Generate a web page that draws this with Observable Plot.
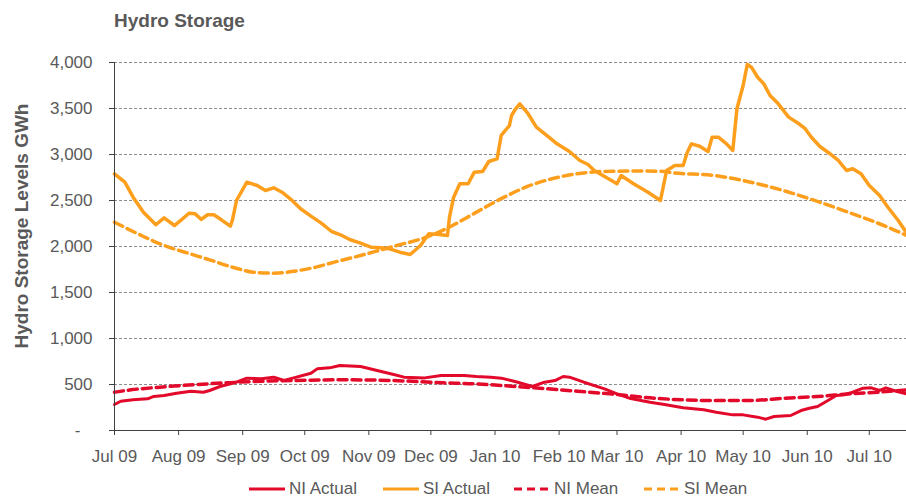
<!DOCTYPE html>
<html>
<head>
<meta charset="utf-8">
<script src="https://cdn.jsdelivr.net/npm/d3@7"></script>
<script src="https://cdn.jsdelivr.net/npm/@observablehq/plot@0.6"></script>
<style>
  body { margin: 0; background: #fff; font-family: "Liberation Sans", Arial, sans-serif; }
  #wrap { position: relative; width: 906px; height: 499px; overflow: hidden; background: #fff; }
  #title { position: absolute; left: 114px; top: 11px; font-size: 19px; line-height: 1; font-weight: bold; color: #595959; }
  #ylab { position: absolute; left: 21px; top: 226px; transform: translate(-50%, -50%) rotate(-90deg);
          white-space: nowrap; font-size: 19px; line-height: 1; font-weight: bold; color: #595959; }
  #chart { position: absolute; left: 0; top: 0; }
  .leg { position: absolute; top: 479px; height: 19px; display: flex; align-items: center; }
  .leg span { font-size: 17px; line-height: 19px; color: #595959; margin-left: 4px; white-space: nowrap; }
</style>
</head>
<body>
<div id="wrap">
  <div id="chart"></div>
  <div id="title">Hydro Storage</div>
  <div id="ylab">Hydro Storage Levels GWh</div>
  <div id="legend"></div>
</div>
<script>
// Days counted from 1 Jul 2009
const startDate = "2009-07-01";
const endDate = "2010-07-19";

const siActualDays = [0,5,9,14,20,24,29,32,36,39,42,45,48,51,56,57,59,64,69,73,77,81,85,90,95,100,105,109,114,119,124,129,133,138,143,148,152,157,161,162,164,167,171,174,178,181,185,187,191,192,194,196,200,204,209,214,220,225,229,232,237,243,245,251,258,264,267,271,275,277,279,283,287,289,292,296,299,301,304,306,308,311,314,317,321,326,331,334,337,341,346,350,354,357,361,365,370,374,379,383];
const siActualVals = [2790,2700,2536,2373,2236,2312,2228,2283,2362,2355,2294,2345,2345,2301,2221,2283,2500,2699,2663,2609,2638,2590,2519,2410,2330,2254,2163,2130,2073,2036,1993,1986,1975,1938,1913,2011,2138,2130,2120,2319,2536,2682,2682,2808,2815,2924,2953,3207,3315,3424,3497,3551,3443,3297,3207,3116,3033,2935,2891,2826,2761,2682,2772,2682,2590,2500,2826,2880,2880,3025,3116,3090,3033,3188,3188,3116,3044,3497,3750,3978,3949,3840,3768,3641,3551,3406,3334,3280,3188,3090,3008,2935,2826,2845,2790,2663,2555,2427,2283,2150];

const siMeanDays = [0,14,24,34,46,58,67,77,87,96,108,119,129,138,148,161,174,187,200,216,229,241,253,264,270,290,306,325,341,357,374,383];
const siMeanVals = [2264,2109,2011,1938,1855,1769,1721,1710,1732,1769,1840,1902,1964,2020,2080,2200,2360,2520,2655,2760,2805,2818,2820,2818,2801,2772,2707,2598,2482,2355,2210,2120];

const niActualDays = [0,3,9,16,19,24,30,37,43,46,51,58,64,71,77,82,88,95,98,104,109,119,127,135,140,150,158,169,175,182,187,195,202,208,213,217,220,227,237,243,249,259,266,275,285,291,299,304,311,315,319,327,332,336,340,345,349,353,357,362,366,370,373,378,383];
const niActualVals = [283,318,333,344,370,380,405,427,416,435,478,518,569,562,580,543,580,623,670,681,706,696,652,609,580,572,598,598,587,580,569,525,478,525,543,587,580,525,453,399,351,308,283,247,225,199,170,170,145,123,152,163,217,242,261,326,380,388,416,460,464,435,464,427,399];

const niMeanDays = [0,8,22,38,54,71,87,111,135,159,175,182,203,224,243,259,275,291,307,324,340,356,369,383];
const niMeanVals = [416,442,471,497,518,536,543,551,543,518,507,497,464,427,391,355,333,326,326,351,370,399,416,442];

const yTicks = [0,500,1000,1500,2000,2500,3000,3500,4000];
const seriesNames = ["NI Actual","SI Actual","NI Mean","SI Mean"];

const RED = "#e2092b";
const ORANGE = "#fd9f1c";

const t0 = d3.utcParse("%Y-%m-%d")(startDate);
const t1 = d3.utcParse("%Y-%m-%d")(endDate);
const toRows = (days, vals) => days.map((d, i) => ({date: d3.utcDay.offset(t0, d), value: vals[i]}));

const niActual = toRows(niActualDays, niActualVals);
const siActual = toRows(siActualDays, siActualVals);
const niMean = toRows(niMeanDays, niMeanVals);
const siMean = toRows(siMeanDays, siMeanVals);

const monthTicks = d3.utcMonths(t0, t1);

const chart = Plot.plot({
  width: 906,
  height: 470,
  marginTop: 62,
  marginBottom: 40,
  marginLeft: 114,
  marginRight: 0,
  x: {type: "utc", domain: [t0, t1]},
  y: {domain: [0, 4000]},
  style: {fontFamily: "'Liberation Sans', Arial, sans-serif", fontSize: "17px", color: "#595959", background: "transparent"},
  marks: [
    Plot.gridY(yTicks.filter(d => d > 0), {stroke: "#8c8c8c", strokeOpacity: 1, strokeDasharray: "3,2"}),
    Plot.line(niActual, {x: "date", y: "value", stroke: RED, strokeWidth: 3}),
    Plot.line(siActual, {x: "date", y: "value", stroke: ORANGE, strokeWidth: 3.5}),
    Plot.line(niMean, {x: "date", y: "value", stroke: RED, strokeWidth: 3.5, strokeDasharray: "9,5", curve: "monotone-x"}),
    Plot.line(siMean, {x: "date", y: "value", stroke: ORANGE, strokeWidth: 3.5, strokeDasharray: "9,5", curve: "monotone-x"}),
    Plot.ruleX([t0], {stroke: "#404040"}),
    Plot.ruleY([0], {stroke: "#404040"}),
    Plot.axisY(yTicks.filter(d => d > 0), {tickSize: 5, tickPadding: 17, tickFormat: d3.format(","), stroke: "#404040", fill: "#595959", label: null}),
    Plot.axisY([0], {tickSize: 5, tickPadding: 29, tickFormat: () => "-", stroke: "#404040", fill: "#595959", label: null}),
    Plot.axisX(monthTicks, {tickSize: 5, tickPadding: 14, tickFormat: d3.utcFormat("%b %y"), stroke: "#404040", fill: "#595959", label: null})
  ]
});
document.getElementById("chart").appendChild(chart);

// Legend
const legendItems = [
  {name: seriesNames[0], color: RED, dash: null, left: 249},
  {name: seriesNames[1], color: ORANGE, dash: null, left: 383},
  {name: seriesNames[2], color: RED, dash: "8,5", left: 514},
  {name: seriesNames[3], color: ORANGE, dash: "8,5", left: 644}
];
const legend = document.getElementById("legend");
for (const it of legendItems) {
  const div = document.createElement("div");
  div.className = "leg";
  div.style.left = it.left + "px";
  div.innerHTML = `<svg width="36" height="6"><line x1="0" x2="36" y1="3" y2="3" stroke="${it.color}" stroke-width="3" ${it.dash ? `stroke-dasharray="${it.dash}"` : ""}/></svg><span>${it.name}</span>`;
  legend.appendChild(div);
}
</script>
</body>
</html>
